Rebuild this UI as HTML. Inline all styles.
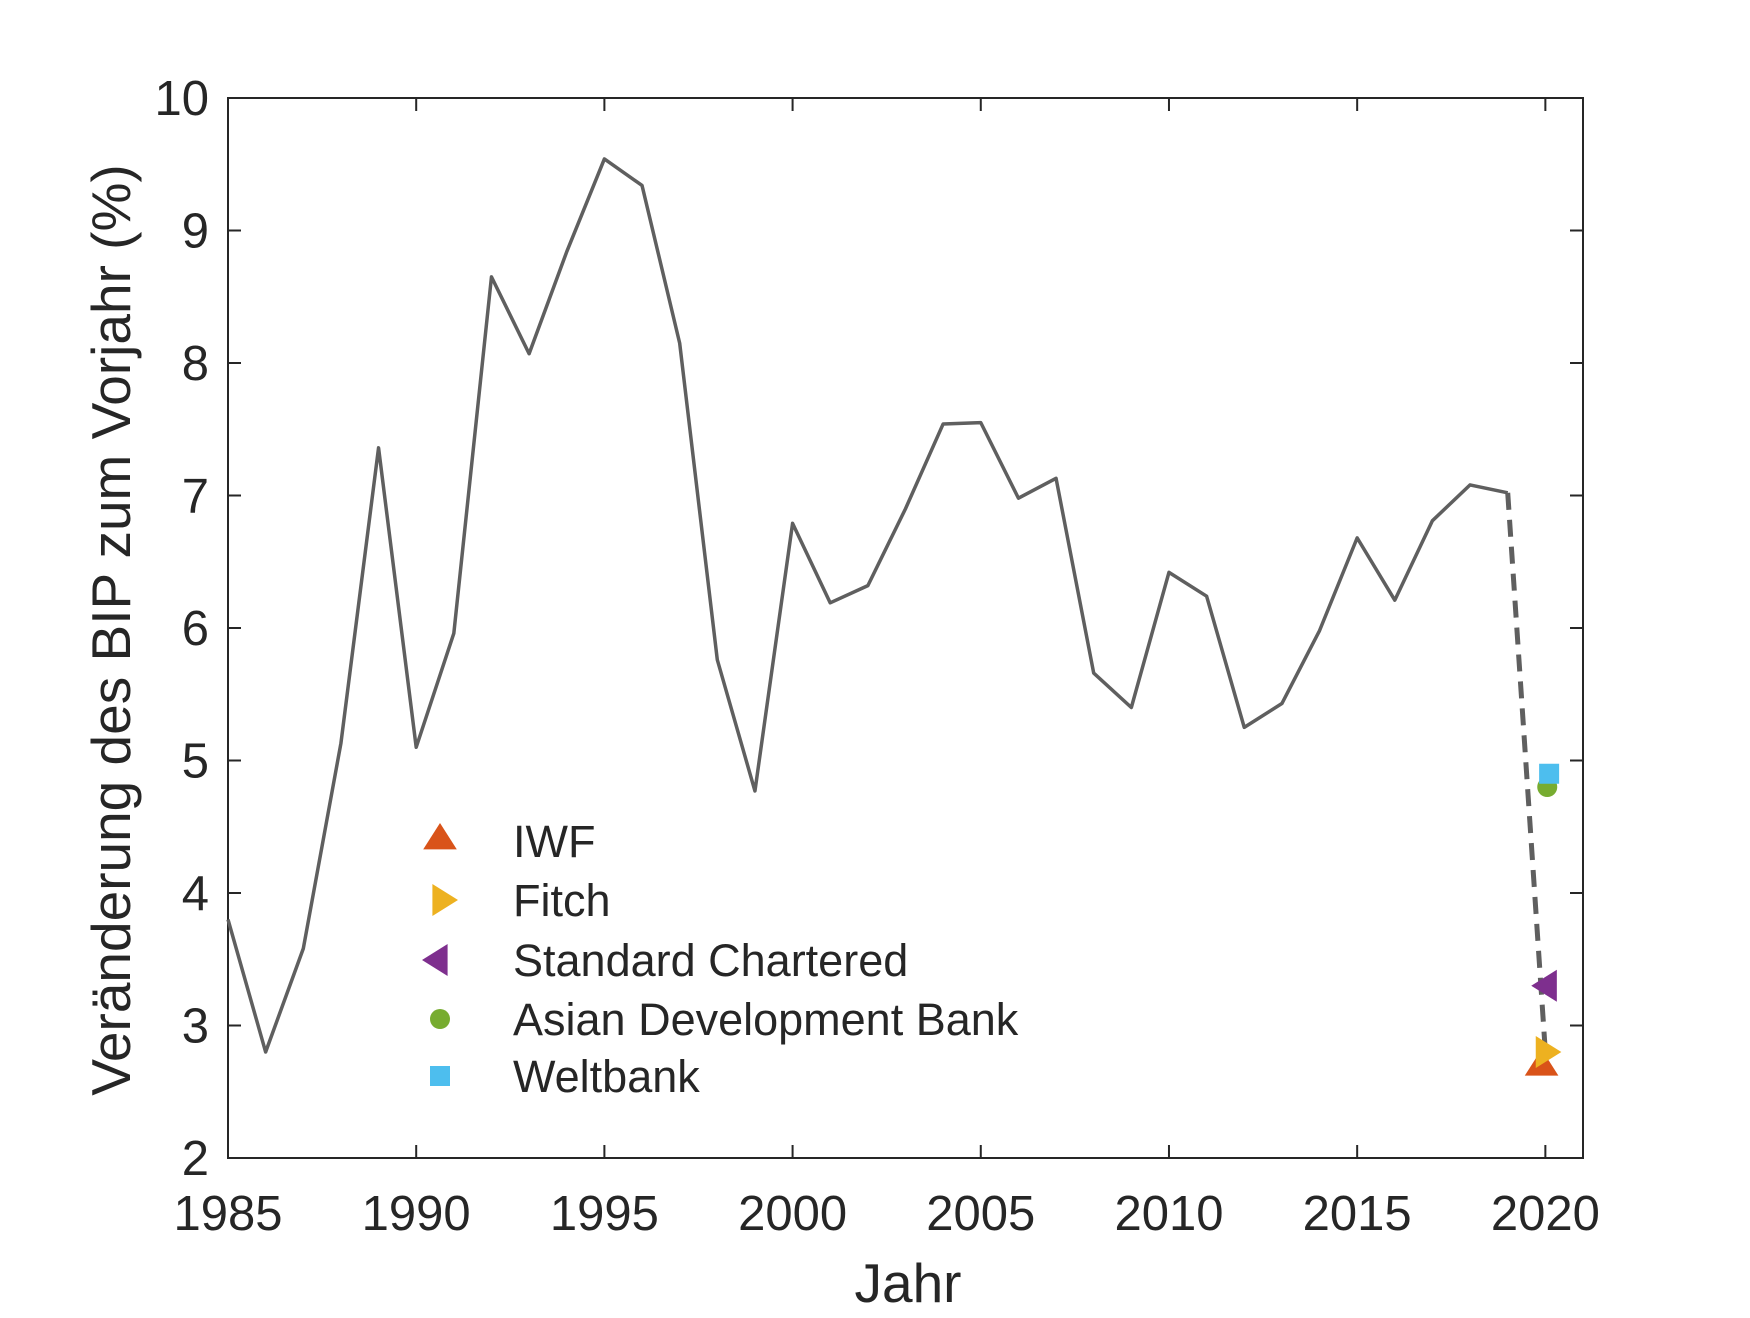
<!DOCTYPE html>
<html><head><meta charset="utf-8"><style>
html,body{margin:0;padding:0;background:#fff;}
svg text{font-family:"Liberation Sans",Arial,sans-serif;fill:#262626;}
</style></head><body>
<svg id="s" width="1750" height="1313" xmlns="http://www.w3.org/2000/svg"></svg>
<script>
const X0=228,X1=1583,Y0=98,Y1=1158;
const px=y=>X0+(y-1985)*(X1-X0)/36;
const py=v=>Y1-(v-2)*(Y1-Y0)/8;
const d=[3.8,2.8,3.58,5.13,7.36,5.1,5.96,8.65,8.07,8.84,9.54,9.34,8.15,5.76,4.77,6.79,6.19,6.32,6.9,7.54,7.55,6.98,7.13,5.66,5.4,6.42,6.24,5.25,5.43,5.98,6.68,6.21,6.81,7.08,7.02];
let h='';
h+=`<rect x="${X0}" y="${Y0}" width="${X1-X0}" height="${Y1-Y0}" fill="#fff" stroke="#262626" stroke-width="2"/>`;
for(let v=2;v<=10;v++){const y=py(v);
 h+=`<line x1="${X0}" y1="${y}" x2="${X0+13}" y2="${y}" stroke="#262626" stroke-width="2"/><line x1="${X1}" y1="${y}" x2="${X1-13}" y2="${y}" stroke="#262626" stroke-width="2"/>`;
 h+=`<text x="209" y="${y+17}" font-size="49" text-anchor="end">${v}</text>`;}
for(let yr=1985;yr<=2020;yr+=5){const x=px(yr);
 h+=`<line x1="${x}" y1="${Y1}" x2="${x}" y2="${Y1-13}" stroke="#262626" stroke-width="2"/><line x1="${x}" y1="${Y0}" x2="${x}" y2="${Y0+13}" stroke="#262626" stroke-width="2"/>`;
 h+=`<text x="${x}" y="1230" font-size="49" text-anchor="middle">${yr}</text>`;}
h+=`<polyline fill="none" stroke="#5f5f5f" stroke-width="3.5" stroke-linejoin="round" points="${d.map((v,i)=>px(1985+i)+','+py(v)).join(' ')}"/>`;
h+=`<line x1="${px(2019)}" y1="${py(7.02)}" x2="${px(2020)}" y2="${py(2.8)}" stroke="#5f5f5f" stroke-width="5" stroke-dasharray="17,10"/>`;
function tri(x,y,dir,c,s){let p;
 if(dir=='up')p=[[x,y-s],[x-s*1.05,y+s*0.65],[x+s*1.05,y+s*0.65]];
 else if(dir=='right')p=[[x+s,y],[x-s*0.6,y-s],[x-s*0.6,y+s]];
 else p=[[x-s,y],[x+s*0.6,y-s],[x+s*0.6,y+s]];
 return `<polygon points="${p.map(a=>a.join(',')).join(' ')}" fill="${c}"/>`;}
const c1='#d95319',c2='#edb120',c3='#7e2f8e',c4='#77ac30',c5='#4dbeee';
h+=tri(px(2019.9),py(2.7),'up',c1,16);
h+=tri(px(2020),py(2.8),'right',c2,16);
h+=tri(px(2020.05),py(3.3),'left',c3,16);
h+=`<circle cx="${px(2020.05)}" cy="${py(4.8)}" r="10" fill="${c4}"/>`;
h+=`<rect x="${px(2020.1)-10}" y="${py(4.9)-10}" width="20" height="20" fill="${c5}"/>`;
const L=[['IWF',841],['Fitch',900],['Standard Chartered',960],['Asian Development Bank',1019],['Weltbank',1076]];
h+=tri(440,L[0][1]-2,'up',c1,16);
h+=tri(442,L[1][1],'right',c2,16);
h+=tri(438,L[2][1],'left',c3,16);
h+=`<circle cx="440" cy="${L[3][1]}" r="10" fill="${c4}"/>`;
h+=`<rect x="430" y="${L[4][1]-10}" width="20" height="20" fill="${c5}"/>`;
L.forEach(l=>h+=`<text x="513" y="${l[1]+16}" font-size="45">${l[0]}</text>`);
h+=`<text x="908" y="1302" font-size="55" text-anchor="middle">Jahr</text>`;
h+=`<text transform="translate(130,630) rotate(-90)" font-size="55" text-anchor="middle">Veränderung des BIP zum Vorjahr (%)</text>`;
document.getElementById('s').innerHTML=h;
</script>
</body></html>
